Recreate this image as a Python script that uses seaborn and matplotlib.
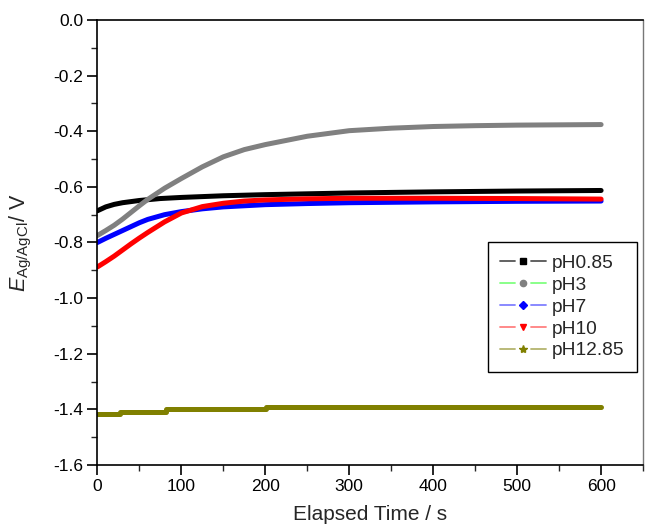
import matplotlib
matplotlib.use("Agg")
import matplotlib.pyplot as plt
import seaborn as sns
import pandas as pd
from matplotlib.lines import Line2D
from matplotlib.legend_handler import HandlerBase

# ---- data ----
t_ph085 = [0, 10, 20, 30, 50, 75, 100, 150, 200, 300, 400, 500, 600]
e_ph085 = [-0.686, -0.672, -0.663, -0.657, -0.649, -0.642, -0.638, -0.632, -0.628, -0.622, -0.618, -0.615, -0.613]

t_ph3 = [0, 10, 20, 30, 40, 50, 60, 80, 100, 125, 150, 175, 200, 250, 300, 350, 400, 450, 500, 550, 600]
e_ph3 = [-0.775, -0.757, -0.738, -0.716, -0.692, -0.668, -0.645, -0.605, -0.570, -0.528, -0.492, -0.466, -0.448, -0.418, -0.398, -0.389, -0.383, -0.380, -0.378, -0.377, -0.376]

t_ph7 = [0, 10, 20, 30, 40, 50, 60, 80, 100, 125, 150, 200, 250, 300, 400, 500, 600]
e_ph7 = [-0.800, -0.785, -0.771, -0.757, -0.743, -0.729, -0.717, -0.700, -0.689, -0.679, -0.672, -0.664, -0.660, -0.657, -0.654, -0.652, -0.651]

t_ph10 = [0, 10, 20, 30, 40, 50, 60, 80, 100, 125, 150, 175, 200, 250, 300, 400, 500, 600]
e_ph10 = [-0.888, -0.869, -0.849, -0.827, -0.805, -0.784, -0.764, -0.726, -0.694, -0.671, -0.659, -0.651, -0.647, -0.643, -0.641, -0.641, -0.642, -0.644]

t_ph1285 = [0, 27, 82, 201, 600]
e_ph1285 = [-1.416, -1.409, -1.399, -1.390, -1.390]

labels = ["pH0.85", "pH3", "pH7", "pH10", "pH12.85"]
line_colors = ["#000000", "#808080", "#0000ff", "#ff0000", "#808000"]
legend_line_colors = ["#555555", "#80ff80", "#8080ff", "#ff8080", "#b4b46e"]
legend_markers = ["s", "o", "D", "v", "*"]
y_ticks = [0.0, -0.2, -0.4, -0.6, -0.8, -1.0, -1.2, -1.4, -1.6]
y_tick_labels = ["0.0", "-0.2", "-0.4", "-0.6", "-0.8", "-1.0", "-1.2", "-1.4", "-1.6"]
x_ticks = [0, 100, 200, 300, 400, 500, 600]

# ---- style ----
sns.set_theme(style="ticks")
plt.rcParams["font.family"] = ["Liberation Sans", "DejaVu Sans"]
plt.rcParams["mathtext.fontset"] = "custom"
plt.rcParams["mathtext.rm"] = "Liberation Sans"
plt.rcParams["mathtext.it"] = "Liberation Sans:italic"
plt.rcParams["axes.unicode_minus"] = False

fig = plt.figure(figsize=(6.45, 5.26), dpi=100)
ax = fig.add_axes([0.151, 0.116, 0.846, 0.846])

series = [(t_ph085, e_ph085), (t_ph3, e_ph3), (t_ph7, e_ph7), (t_ph10, e_ph10), (t_ph1285, e_ph1285)]
for (t, e), lab, col in zip(series, labels, line_colors):
    df = pd.DataFrame({"t": t, "E": e})
    kw = {}
    if lab == "pH12.85":
        kw["drawstyle"] = "steps-post"
    sns.lineplot(data=df, x="t", y="E", ax=ax, color=col, linewidth=3.6,
                 estimator=None, sort=False, legend=False, **kw)

ax.set_xlim(0, 650)
ax.set_ylim(-1.6, 0.0)
ax.set_xticks(x_ticks)
ax.set_xticks(range(50, 651, 100), minor=True)
ax.set_yticks(y_ticks)
ax.set_yticklabels(y_tick_labels)
ax.set_yticks([round(-0.1 - 0.2 * i, 1) for i in range(8)], minor=True)

for s in ["left", "bottom", "top"]:
    ax.spines[s].set_linewidth(1.2)
    ax.spines[s].set_color("black")
ax.spines["right"].set_linewidth(1.0)
ax.spines["right"].set_color("#777777")

ax.tick_params(which="major", direction="out", length=7, width=1.2, labelsize=12.5, colors="black", pad=3)
ax.tick_params(which="minor", direction="out", length=4, width=1.0)

ax.set_xlabel("Elapsed Time / s", fontsize=15, labelpad=8)
ax.set_ylabel(r"$E_{\mathrm{Ag/AgCl}}$/ V", fontsize=15.5, labelpad=14)


class GapHandler(HandlerBase):
    def create_artists(self, legend, orig_handle, xdescent, ydescent, width, height, fontsize, trans):
        y = height / 2.0 - ydescent
        x0 = -xdescent
        lc = orig_handle.get_color()
        l1 = Line2D([x0, x0 + 0.33 * width], [y, y], color=lc, lw=1.3)
        l2 = Line2D([x0 + 0.67 * width, x0 + width], [y, y], color=lc, lw=1.3)
        m = Line2D([x0 + 0.5 * width], [y], linestyle="none",
                   marker=orig_handle.get_marker(),
                   markerfacecolor=orig_handle.get_markerfacecolor(),
                   markeredgecolor=orig_handle.get_markerfacecolor(),
                   markersize=orig_handle.get_markersize())
        arts = [l1, l2, m]
        for a in arts:
            a.set_transform(trans)
        return arts


handles = []
for lc, mk, mc in zip(legend_line_colors, legend_markers, line_colors):
    ms = 6 if mk == "*" else 4.5
    handles.append(Line2D([], [], color=lc, marker=mk, markerfacecolor=mc, markersize=ms))

leg = ax.legend(handles, labels, handler_map={Line2D: GapHandler()},
                loc="lower right", bbox_to_anchor=(0.989, 0.209), borderaxespad=0,
                fontsize=13.8, frameon=True, fancybox=False, shadow=False,
                handlelength=2.4, handletextpad=0.3, labelspacing=0.23,
                borderpad=0.66)
leg.get_frame().set_edgecolor("black")
leg.get_frame().set_linewidth(1.0)
leg.get_frame().set_alpha(1)

fig.savefig("out.png", dpi=100)
